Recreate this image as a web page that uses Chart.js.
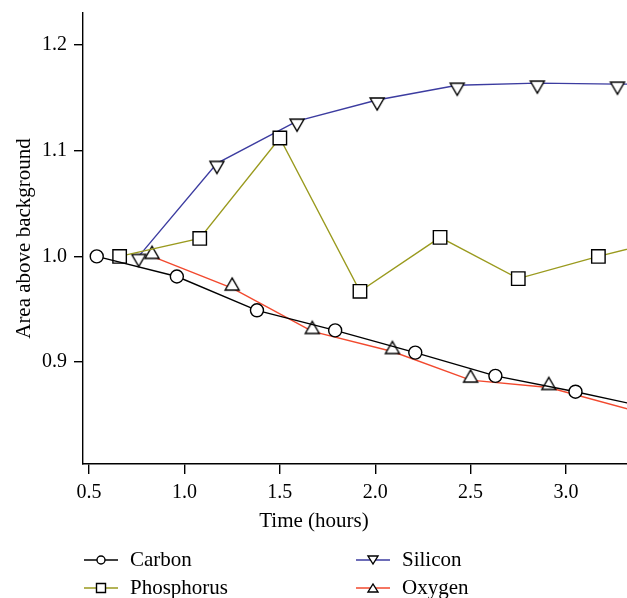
<!DOCTYPE html>
<html>
<head>
<meta charset="utf-8">
<script src="https://cdn.jsdelivr.net/npm/chart.js@4.4.0/dist/chart.umd.min.js"></script>
<style>
  html, body { margin: 0; padding: 0; background: #fff; overflow: hidden; }
  canvas { display: block; }
</style>
</head>
<body>
<canvas id="myChart" width="627" height="598"></canvas>
<script>
// values (last point of each series sits past the right edge)
const carbonX = [0.54, 0.96, 1.38, 1.79, 2.21, 2.63, 3.05, 3.46];
const carbonY = [1.000, 0.981, 0.949, 0.930, 0.909, 0.887, 0.872, 0.856];
const phosX = [0.66, 1.08, 1.50, 1.92, 2.34, 2.75, 3.17, 3.59];
const phosY = [1.000, 1.017, 1.112, 0.967, 1.018, 0.979, 1.000, 1.019];
const siliconX = [0.76, 1.17, 1.59, 2.01, 2.43, 2.85, 3.27, 3.69];
const siliconY = [1.000, 1.088, 1.128, 1.148, 1.162, 1.164, 1.163, 1.163];
const oxygenX = [0.83, 1.25, 1.67, 2.09, 2.50, 2.91, 3.40];
const oxygenY = [1.000, 0.970, 0.929, 0.910, 0.883, 0.876, 0.852];
const xTicks = [0.5, 1.0, 1.5, 2.0, 2.5, 3.0];
const yTicks = [0.9, 1.0, 1.1, 1.2];

const FONT = 'Liberation Serif';

const pts = (xs, ys) => xs.map((x, i) => ({ x: x, y: ys[i] }));

// triangles are anchored on their flat side, so draw them off-centre in a small canvas
function triMarker(down) {
  const c = document.createElement('canvas');
  c.width = 18; c.height = 30;
  const g = c.getContext('2d');
  g.lineWidth = 1.4;
  g.strokeStyle = '#000';
  g.fillStyle = '#fff';
  g.beginPath();
  if (down) { g.moveTo(2, 13); g.lineTo(16, 13); g.lineTo(9, 25); }
  else { g.moveTo(2, 17); g.lineTo(16, 17); g.lineTo(9, 5); }
  g.closePath();
  g.fill();
  g.stroke();
  return c;
}

const datasets = [
  { label: 'Carbon', data: pts(carbonX, carbonY), borderColor: '#000000', pointStyle: 'circle', pointRadius: 6.5, mk: 'circle' },
  { label: 'Phosphorus', data: pts(phosX, phosY), borderColor: '#9a9a1e', pointStyle: 'rect', pointRadius: 9.5, mk: 'rect' },
  { label: 'Silicon', data: pts(siliconX, siliconY), borderColor: '#3c3ca0', pointStyle: triMarker(true), pointRadius: 8, mk: 'down' },
  { label: 'Oxygen', data: pts(oxygenX, oxygenY), borderColor: '#f2492e', pointStyle: triMarker(false), pointRadius: 8, mk: 'up' }
].map(d => Object.assign(d, {
  borderWidth: 1.4,
  pointBorderColor: '#000',
  pointBackgroundColor: '#fff',
  pointBorderWidth: 1.4,
  pointHoverRadius: d.pointRadius,
  fill: false,
  tension: 0
}));

// x title (sits left of the axis centre in the figure) and the two-column legend
const bottomPlugin = {
  id: 'bottomText',
  afterDraw(chart) {
    const ctx = chart.ctx;
    ctx.save();
    ctx.fillStyle = '#000';
    ctx.font = '21px "' + FONT + '"';
    ctx.textBaseline = 'middle';
    ctx.textAlign = 'center';
    ctx.fillText('Time (hours)', 314, 521);

    const colX = [84, 356];
    const rowY = [560, 588];
    chart.data.datasets.forEach((d, i) => {
      const x0 = colX[Math.floor(i / 2)];
      const y = rowY[i % 2];
      ctx.strokeStyle = d.borderColor;
      ctx.lineWidth = 1.4;
      ctx.beginPath();
      ctx.moveTo(x0, y); ctx.lineTo(x0 + 34, y);
      ctx.stroke();
      const cx = x0 + 17;
      ctx.fillStyle = '#fff';
      ctx.strokeStyle = '#000';
      ctx.beginPath();
      if (d.mk === 'circle') ctx.arc(cx, y, 4, 0, Math.PI * 2);
      else if (d.mk === 'rect') ctx.rect(cx - 4.5, y - 4.5, 9, 9);
      else if (d.mk === 'down') { ctx.moveTo(cx - 5, y - 4); ctx.lineTo(cx + 5, y - 4); ctx.lineTo(cx, y + 4); ctx.closePath(); }
      else { ctx.moveTo(cx - 5, y + 4); ctx.lineTo(cx + 5, y + 4); ctx.lineTo(cx, y - 4); ctx.closePath(); }
      ctx.fill();
      ctx.stroke();
      ctx.fillStyle = '#000';
      ctx.textAlign = 'left';
      ctx.fillText(d.label, x0 + 46, y);
    });
    ctx.restore();
  }
};

const ctx = document.getElementById('myChart').getContext('2d');
const myChart = new Chart(ctx, {
  type: 'line',
  data: { datasets: datasets },
  options: {
    animation: false,
    responsive: false,
    devicePixelRatio: 1,
    layout: { autoPadding: false, padding: { top: 13, left: 0, right: 0, bottom: 0 } },
    plugins: { legend: { display: false }, tooltip: { enabled: false } },
    scales: {
      x: {
        type: 'linear',
        min: 0.468,
        max: 3.32,
        afterBuildTicks: s => { s.ticks = xTicks.map(v => ({ value: v })); },
        afterFit: s => { s.height = 134; s.paddingLeft = 0; s.paddingRight = 0; },
        grid: { display: true, drawOnChartArea: false, drawTicks: true, tickLength: 10, color: '#000', lineWidth: 1.4 },
        border: { display: true, color: '#000', width: 1.4 },
        ticks: { color: '#000', font: { family: FONT, size: 20 }, padding: 7, maxRotation: 0, autoSkip: false, callback: v => v.toFixed(1) },
        title: { display: false }
      },
      y: {
        type: 'linear',
        min: 0.8036,
        max: 1.2303,
        afterBuildTicks: s => { s.ticks = yTicks.map(v => ({ value: v })); },
        afterFit: s => { s.width = 83; s.paddingTop = 0; s.paddingBottom = 0; },
        grid: { display: true, drawOnChartArea: false, drawTicks: true, tickLength: 9, color: '#000', lineWidth: 1.4 },
        border: { display: true, color: '#000', width: 1.4 },
        ticks: { color: '#000', font: { family: FONT, size: 20 }, padding: 7, autoSkip: false, callback: v => v.toFixed(1) },
        title: { display: true, text: 'Area above background', color: '#000', font: { family: FONT, size: 21 }, padding: { top: 12, bottom: 0 } }
      }
    }
  },
  plugins: [bottomPlugin]
});
</script>
</body>
</html>
